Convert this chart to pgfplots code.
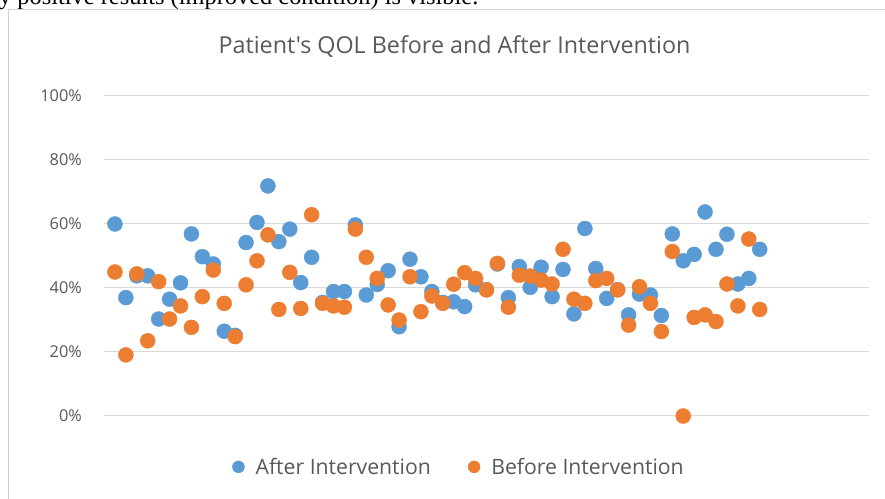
\documentclass[border=0pt]{standalone}
\usepackage{pgfplots}
\pgfplotsset{compat=1.18}
\usepackage{fontspec}
\setmainfont{Open Sans}
\newfontfamily\titlefont{Open Sans}
\newfontfamily\seriffont{Liberation Serif}
\definecolor{blueA}{HTML}{5B9BD5}
\definecolor{orangeB}{HTML}{ED7D31}
\definecolor{txtgray}{HTML}{595959}
\definecolor{gridgray}{HTML}{D9D9D9}
\definecolor{framegray}{HTML}{D0D0D0}

\pgfplotstableread{
i after before
1 60.0 45.0
2 37.0 19.1
3 43.8 44.4
4 43.8 23.5
5 30.3 42.0
6 36.5 30.3
7 41.6 34.4
8 56.9 27.7
9 49.8 37.3
10 47.5 45.6
11 26.5 35.2
12 25.2 24.8
13 54.2 41.0
14 60.5 48.5
15 71.9 56.6
16 54.5 33.3
17 58.4 44.9
18 41.7 33.6
19 49.6 62.9
20 35.5 35.2
21 38.9 34.4
22 38.9 34.0
23 59.7 58.4
24 37.8 49.6
25 41.1 43.0
26 45.4 34.7
27 27.9 30.0
28 49.0 43.5
29 43.5 32.6
30 38.9 37.5
31 35.5 35.2
32 35.7 41.2
33 34.2 44.8
34 41.0 43.0
35 39.5 39.4
36 47.5 47.7
37 37.0 34.0
38 46.7 44.0
39 40.2 43.75
40 46.5 42.5
41 37.3 41.25
42 45.8 52.1
43 31.9 36.5
44 58.6 35.2
45 46.1 42.3
46 36.75 43.0
47 39.5 39.4
48 31.6 28.4
49 38.1 40.4
50 37.8 35.2
51 31.4 26.4
52 56.9 51.4
53 48.5 0.0
54 50.5 30.8
55 63.75 31.6
56 52.1 29.5
57 56.8 41.25
58 41.25 34.4
59 43.0 55.3
60 52.1 33.3
}\qoldata

\begin{document}
\begin{tikzpicture}
\path[use as bounding box, fill=white] (0bp,0bp) rectangle (885bp,499bp);
\clip (0bp,0bp) rectangle (885bp,499bp);
% remnant of the surrounding document text
\node[anchor=base west, inner sep=0pt, text=black, font=\seriffont\fontsize{24.4bp}{26bp}\selectfont] at (-1bp,494bp) {y positive results (improved condition) is visible.};
% chart frame
\draw[framegray, line width=1bp] (8.5bp,-5bp) -- (8.5bp,489bp) -- (890bp,489bp);
% title
\node[anchor=base, inner sep=0pt, text=txtgray, font=\titlefont\fontsize{23.3bp}{26bp}\selectfont] at (454.5bp,445bp) {Patient's QOL Before and After Intervention};
\begin{axis}[
  at={(104bp,83bp)}, anchor=south west,
  scale only axis, width=765bp, height=320bp,
  xmin=0, xmax=70, ymin=0, ymax=100,
  clip=false,
  axis line style={draw=none},
  xtick=\empty,
  ytick={0,20,40,60,80,100},
  major tick length=0pt,
  ymajorgrids,
  grid style={gridgray, line width=1bp},
  yticklabel={\pgfmathprintnumber{\tick}\%},
  /pgf/number format/assume math mode=true,
  yticklabel style={font=\fontsize{16.3bp}{18bp}\selectfont, text=txtgray, inner sep=0pt, anchor=east, xshift=-22bp},
  legend columns=2,
  legend style={at={(0.4627,-0.159)}, anchor=center, draw=none, fill=none,
    font=\fontsize{21.2bp}{24bp}\selectfont, text=txtgray,
    nodes={inner sep=0pt},
    /tikz/every odd column/.append style={column sep=11bp},
    /tikz/every even column/.append style={column sep=37bp}},
  legend image code/.code={\fill[#1] (0bp,0bp) circle (6bp);},
]
\addplot[only marks, color=blueA, mark=*, mark size=7.5bp, mark options={draw=none, fill=blueA}] table[x=i, y=after] {\qoldata};
\addlegendentry{After Intervention}
\addplot[only marks, color=orangeB, mark=*, mark size=7.5bp, mark options={draw=none, fill=orangeB}] table[x=i, y=before] {\qoldata};
\addlegendentry{Before Intervention}
\end{axis}
\end{tikzpicture}
\end{document}
